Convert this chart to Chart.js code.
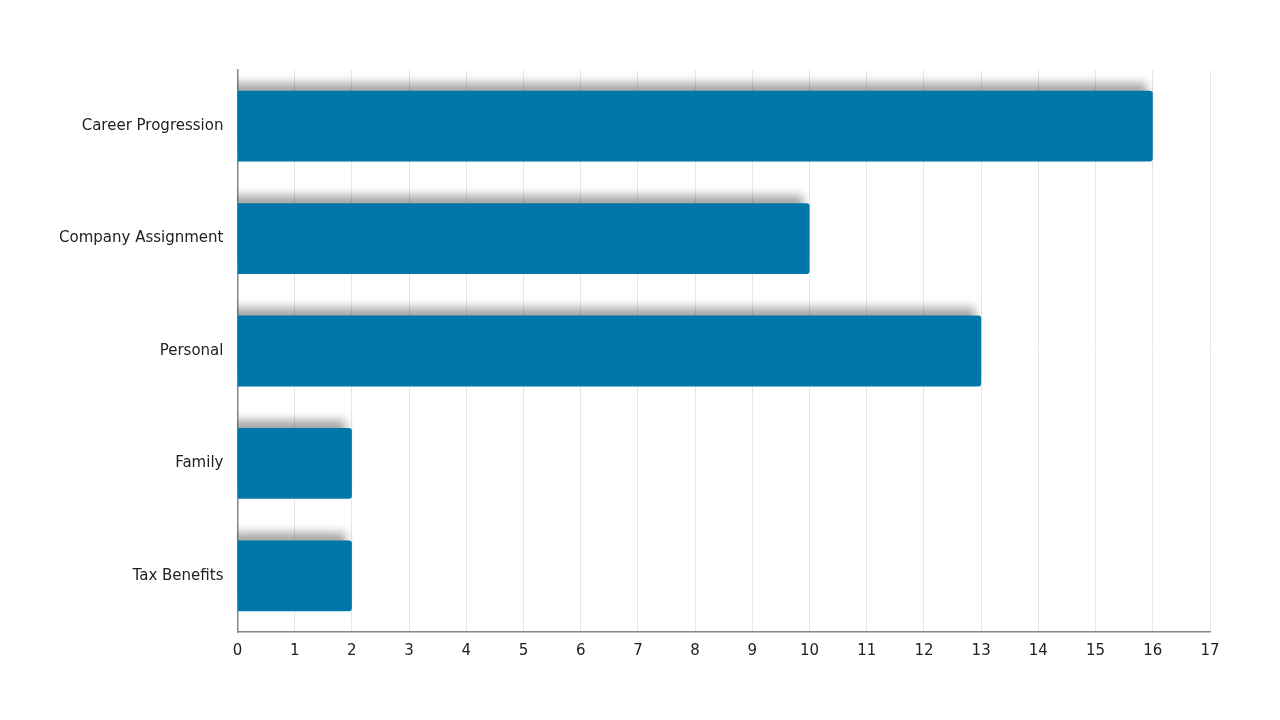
<!DOCTYPE html>
<html>
<head>
<meta charset="utf-8">
<script src="https://cdn.jsdelivr.net/npm/chart.js@4/dist/chart.umd.min.js"></script>
<style>
  html, body { margin: 0; padding: 0; background: #fff; }
  #wrap { width: 1280px; height: 720px; }
</style>
</head>
<body>
<div id="wrap"><canvas id="chart"></canvas></div>
<script>
const categories = ['Career Progression', 'Company Assignment', 'Personal', 'Family', 'Tax Benefits'];
const values = [16, 10, 13, 2, 2];
const xMax = 17;

// soft shadow above each bar
const barShadow = {
    id: 'barShadow',
    beforeDatasetDraw(chart) {
        const ctx = chart.ctx;
        ctx.save();
        ctx.shadowColor = 'rgba(0, 0, 0, 0.35)';
        ctx.shadowBlur = 10;
        ctx.shadowOffsetX = -6;
        ctx.shadowOffsetY = -8;
    },
    afterDatasetDraw(chart) {
        chart.ctx.restore();
    }
};

new Chart(document.getElementById('chart'), {
    type: 'bar',
    data: {
        labels: categories,
        datasets: [{
            data: values,
            backgroundColor: '#0077a8',
            borderRadius: 3,
            borderSkipped: 'start',
            barPercentage: 0.63,
            categoryPercentage: 1
        }]
    },
    options: {
        indexAxis: 'y',
        responsive: true,
        maintainAspectRatio: false,
        animation: false,
        layout: { padding: { top: 70, right: 70, bottom: 50, left: 45 } },
        plugins: { legend: { display: false }, tooltip: { enabled: false } },
        scales: {
            x: {
                min: 0,
                max: xMax,
                ticks: { stepSize: 1, color: '#222', padding: 10, font: { family: 'DejaVu Sans', size: 15 } },
                grid: { color: '#e6e6e6', drawTicks: false },
                border: { color: '#888', width: 1.5 }
            },
            y: {
                ticks: { color: '#222', padding: 14, font: { family: 'DejaVu Sans', size: 15 } },
                grid: { display: false, drawTicks: false },
                border: { color: '#888', width: 1.5 }
            }
        }
    },
    plugins: [barShadow]
});
</script>
</body>
</html>
